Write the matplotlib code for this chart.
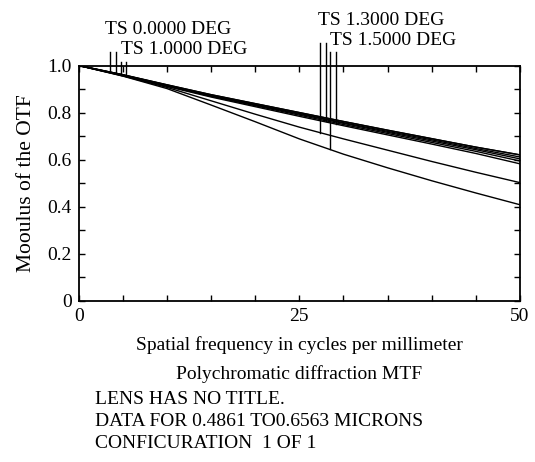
import matplotlib
matplotlib.use("Agg")
import matplotlib.pyplot as plt
import numpy as np

plt.rcParams['font.family'] = ['Liberation Serif', 'DejaVu Serif']

# spatial frequency samples (cycles/mm)
freq = [0, 5, 10, 15, 20, 25, 30, 35, 40, 45, 50]

# MTF curves (T = tangential, S = sagittal)
f00_t = [1.0, 0.961, 0.918, 0.876, 0.838, 0.800, 0.762, 0.725, 0.689, 0.653, 0.620]
f00_s = [1.0, 0.961, 0.918, 0.876, 0.838, 0.800, 0.762, 0.725, 0.689, 0.653, 0.620]
f10_t = [1.0, 0.959, 0.915, 0.872, 0.832, 0.793, 0.754, 0.716, 0.679, 0.642, 0.603]
f10_s = [1.0, 0.960, 0.916, 0.873, 0.834, 0.796, 0.757, 0.720, 0.684, 0.647, 0.611]
f13_t = [1.0, 0.956, 0.907, 0.850, 0.793, 0.738, 0.688, 0.640, 0.592, 0.546, 0.502]
f13_s = [1.0, 0.958, 0.913, 0.869, 0.829, 0.789, 0.749, 0.711, 0.673, 0.635, 0.594]
f15_t = [1.0, 0.955, 0.902, 0.832, 0.761, 0.688, 0.623, 0.565, 0.510, 0.458, 0.408]
f15_s = [1.0, 0.957, 0.911, 0.866, 0.825, 0.784, 0.744, 0.705, 0.666, 0.626, 0.582]

field_labels = ["TS 0.0000 DEG", "TS 1.0000 DEG", "TS 1.3000 DEG", "TS 1.5000 DEG"]
curves = [(f00_t, f00_s), (f10_t, f10_s), (f13_t, f13_s), (f15_t, f15_s)]
# where the marker lines sit on each curve (T, S)
marker_x = [(3.54, 4.19), (4.79, 5.32), (27.33, 27.97), (28.46, 29.1)]
marker_top = [1.059, 1.016, 1.094, 1.059]
label_pos = [(2.98, 1.154), (4.79, 1.066), (27.1, 1.19), (28.46, 1.106)]

fig = plt.figure(figsize=(5.35, 4.62), dpi=100)
ax = fig.add_axes([0.1471, 0.3491, 0.8249, 0.5091])

for (t, s), (mt, ms), top, lab, (lx, ly) in zip(curves, marker_x, marker_top,
                                                 field_labels, label_pos):
    ax.plot(freq, t, color='black', lw=1.0)
    ax.plot(freq, s, color='black', lw=1.0)
    for mx, cv in ((mt, t), (ms, s)):
        ax.plot([mx, mx], [np.interp(mx, freq, cv), top], color='black',
                lw=1.0, clip_on=False)
    ax.text(lx, ly, lab, fontsize=14, ha='left', va='center', clip_on=False)

ax.set_xlim(0, 50)
ax.set_ylim(0, 1.0)
ax.set_xticks(np.arange(0, 51, 5))
ax.set_xticklabels(['0', '', '', '', '', '25', '', '', '', '', '50'])
ax.set_yticks(np.arange(0, 1.01, 0.1))
ax.set_yticklabels(['0', '', '0.2', '', '0.4', '', '0.6', '', '0.8', '', '1.0'])
ax.tick_params(direction='in', length=4, width=1, top=True, right=True,
               labelsize=14)
ax.tick_params(axis='x', pad=5)
ax.tick_params(axis='y', pad=5)
for sp in ax.spines.values():
    sp.set_linewidth(1.3)

ax.text(-0.119, 0.5, "Mooulus of the OTF", transform=ax.transAxes,
        rotation=90, ha='center', va='center', fontsize=15.5)

W, H = 535, 462
fig.text(299.4 / W, 1 - 350 / H, "Spatial frequency in cycles per millimeter",
         ha='center', va='baseline', fontsize=14)
fig.text(299.4 / W, 1 - 379 / H, "Polychromatic diffraction MTF",
         ha='center', va='baseline', fontsize=14)
fig.text(95 / W, 1 - 404 / H, "LENS HAS NO TITLE.", ha='left', va='baseline',
         fontsize=14)
fig.text(95 / W, 1 - 426.5 / H, "DATA FOR 0.4861 TO0.6563 MICRONS",
         ha='left', va='baseline', fontsize=14)
fig.text(95 / W, 1 - 448 / H, "CONFICURATION  1 OF 1", ha='left',
         va='baseline', fontsize=14)

fig.savefig("out.png", dpi=100)
